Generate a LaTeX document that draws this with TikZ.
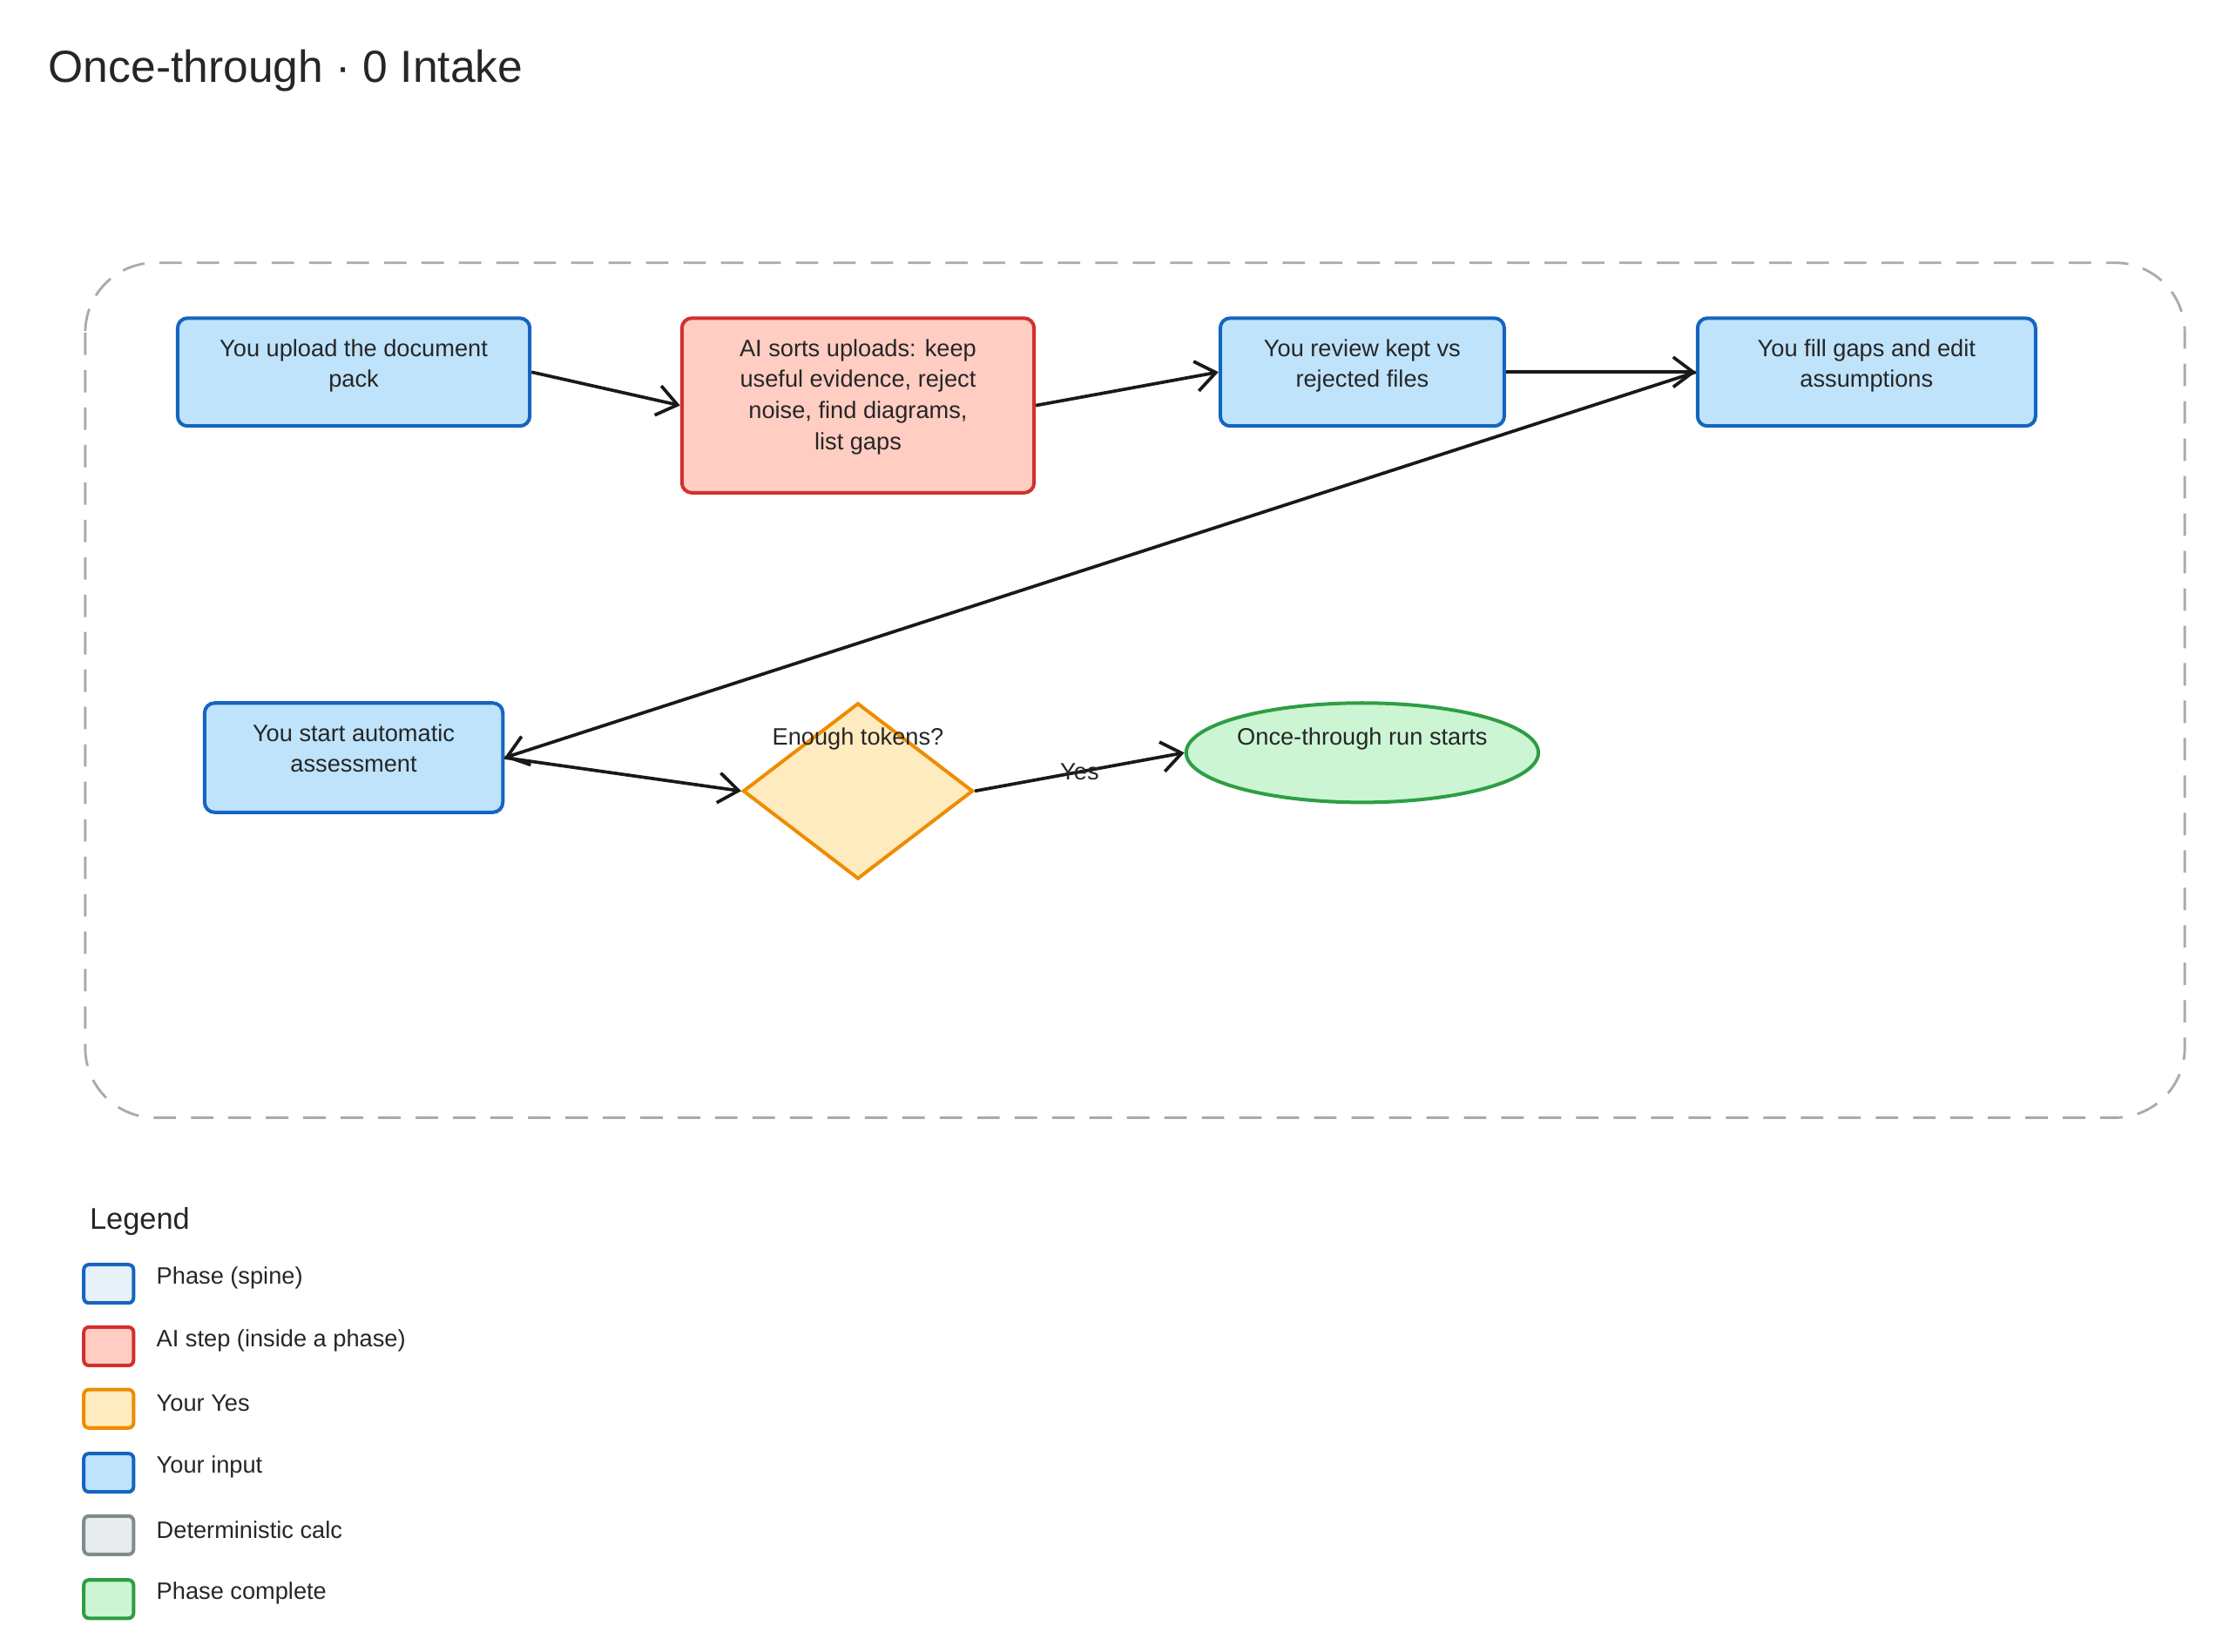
\documentclass[tikz,border=0pt]{standalone}
\usepackage{fontspec}
\setmainfont{Liberation Sans}
\usetikzlibrary{arrows.meta, positioning, shapes.geometric, calc}
\definecolor{bluefill}{RGB}{190,227,251}
\definecolor{bluedraw}{RGB}{21,101,192}
\definecolor{redfill}{RGB}{255,205,194}
\definecolor{reddraw}{RGB}{211,47,47}
\definecolor{orangefill}{RGB}{255,235,192}
\definecolor{orangedraw}{RGB}{239,140,0}
\definecolor{greenfill}{RGB}{204,245,211}
\definecolor{greendraw}{RGB}{46,158,68}
\definecolor{grayfill}{RGB}{232,236,238}
\definecolor{graydraw}{RGB}{127,140,141}
\definecolor{phasefill}{RGB}{232,240,248}
\definecolor{framegray}{RGB}{170,170,170}
\tikzset{>={Straight Barb[length=8pt,width=12pt]}}
\tikzset{
  box/.style={draw, line width=1.4pt, rounded corners=4pt, inner sep=0pt},
  userbox/.style={box, draw=bluedraw, fill=bluefill},
  aibox/.style={box, draw=reddraw, fill=redfill},
  txt/.style={anchor=north, align=center, font=\fontsize{9.5}{12.4}\selectfont, text=black!85},
  flow/.style={->, line width=1.3pt, black!90},
  legbox/.style={box, rounded corners=2pt, minimum width=0.7cm, minimum height=0.54cm},
  legtxt/.style={anchor=west, font=\fontsize{9.5}{12}\selectfont, text=black!85}
}
\begin{document}
\begin{tikzpicture}[x=0.02cm, y=-0.02cm]
	\useasboundingbox (0,0) rectangle (1560,1163);
	\node [anchor=west, font=\fontsize{18}{22}\selectfont, text=black!85] (title) at (28,50) {Once-through · 0 Intake};
	% frame
	\draw [framegray, dashed, dash pattern=on 9pt off 6pt, line width=1pt, rounded corners=28pt] (60,185) rectangle (1538,787);

	% top row
	\node [userbox, minimum width=4.96cm, minimum height=1.52cm] (upload) at (249,262) {};
	\node [txt] (uploadtxt) at ($(upload.north)+(0,10)$) {You upload the document\\pack};
	\node [aibox, minimum width=4.96cm, minimum height=2.46cm] (sort) at (604,285.5) {};
	\node [txt] (sorttxt) at ($(sort.north)+(0,10)$) {AI sorts uploads: keep\\useful evidence, reject\\noise, find diagrams,\\list gaps};
	\node [userbox, minimum width=4cm, minimum height=1.52cm] (review) at (959,262) {};
	\node [txt] (reviewtxt) at ($(review.north)+(0,10)$) {You review kept vs\\rejected files};
	\node [userbox, minimum width=4.76cm, minimum height=1.52cm] (fill) at (1314,262) {};
	\node [txt] (filltxt) at ($(fill.north)+(0,10)$) {You fill gaps and edit\\assumptions};

	% bottom row
	\node [userbox, minimum width=4.2cm, minimum height=1.54cm] (start) at (249,533.5) {};
	\node [txt] (starttxt) at ($(start.north)+(0,10)$) {You start automatic\\assessment};
	\node [diamond, draw=orangedraw, fill=orangefill, line width=1.4pt, minimum width=3.24cm, minimum height=2.48cm, inner sep=0pt] (tokens) at (604,557) {};
	\node [txt] (tokenstxt) at (604,506) {Enough tokens?};
	\node [ellipse, draw=greendraw, fill=greenfill, line width=1.4pt, minimum width=4.96cm, minimum height=1.4cm, inner sep=0pt] (run) at (959,530) {};
	\node [txt] (runtxt) at (959,506) {Once-through run starts};

	% connectors
	\draw [flow] (upload.east) -- (sort.west);
	\draw [flow] (sort.east) -- (review.west);
	\draw [flow] (review.east) -- (fill.west);
	\draw [flow] (fill.west) -- (start.east);
	\draw [flow] (start.east) -- (tokens.west);
	\draw [flow] (tokens.east) -- node [font=\fontsize{9.5}{12}\selectfont, text=black!85, pos=0.5] {Yes} (run.west);

	% legend
	\node [anchor=west, font=\fontsize{12}{14}\selectfont, text=black!85] (legend) at (57,860) {Legend};
	\foreach \y/\f/\d/\t [count=\i] in {904/phasefill/bluedraw/Phase (spine),
	                                   948/redfill/reddraw/AI step (inside a phase),
	                                   992/orangefill/orangedraw/Your Yes/No,
	                                   1037/bluefill/bluedraw/Your input/review,
	                                   1081/grayfill/graydraw/Deterministic calc,
	                                   1126/greenfill/greendraw/Phase complete} {
		\node [legbox, draw=\d, fill=\f] (leg\i) at (76.5,\y) {};
		\node [legtxt] (legtxt\i) at (104,\y-4) {\t};
	}
\end{tikzpicture}
\end{document}
